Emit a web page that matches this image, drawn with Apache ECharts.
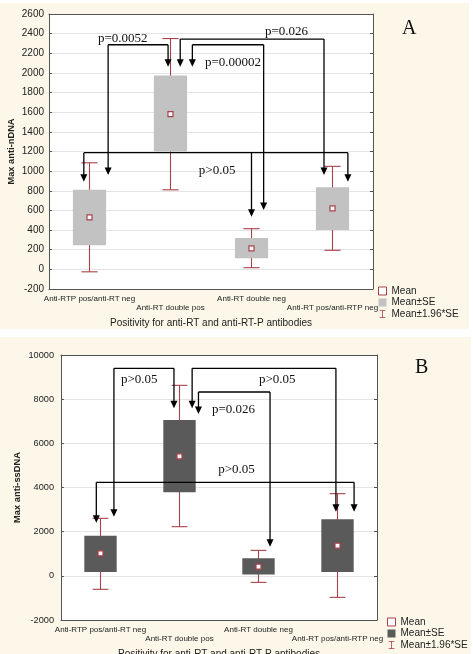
<!DOCTYPE html>
<html><head><meta charset="utf-8">
<script src="https://cdn.jsdelivr.net/npm/echarts@6/dist/echarts.min.js"></script>
<style>html,body{margin:0;padding:0;background:#fff}#c{width:473px;height:654px}</style>
</head><body><div id="c"></div>
<script>
// ---------- data ----------
const categories = ['Anti-RTP pos/anti-RT neg', 'Anti-RT double pos', 'Anti-RT double neg', 'Anti-RT pos/anti-RTP neg'];

// Panel A : Max anti-nDNA
const meanA   = [530, 1580, 214, 621];
const seLowA  = [245, 1200, 112, 400];
const seHighA = [810, 1975, 319, 835];
const ciLowA  = [-25, 810, 17, 194];
const ciHighA = [1085, 2350, 414, 1049];
const axisA = { min: -200, max: 2600, interval: 200 };

// Panel B : Max anti-ssDNA
const meanB   = [1019, 5411, 415, 1365];
const seLowB  = [172, 3780, 66, 172];
const seHighB = [1817, 7056, 791, 2557];
const ciLowB  = [-611, 2226, -296, -975];
const ciHighB = [2604, 8626, 1153, 3720];
const axisB = { min: -2000, max: 10000, interval: 2000 };

// comparison brackets: level value, arrows [category, offset (fraction of band), tip value]
const bracketsA = [
  { level: 2287, arrows: [[0, 0.23, 960], [1, -0.03, 2063]] },
  { level: 2345, arrows: [[1, 0.12, 2063], [3, -0.105, 960]] },
  { level: 2287, arrows: [[1, 0.27, 2063], [2, 0.15, 604]] },
  { level: 1188, arrows: [[0, -0.07, 892], [2, 0.0, 536], [3, 0.19, 892]] }
];
const pLabelsA = [['p=0.0052', 0, 0.105, 2348], ['p=0.026', 2, 0.167, 2417], ['p=0.00002', 1, 0.426, 2104], ['p>0.05', 1, 0.35, 1004]];

const bracketsB = [
  { level: 9398, arrows: [[0, 0.17, 2677], [1, -0.07, 7586]] },
  { level: 9398, arrows: [[1, 0.16, 7586], [3, -0.02, 2903]] },
  { level: 8324, arrows: [[1, 0.24, 7328], [2, 0.146, 1318]] },
  { level: 4235, arrows: [[0, -0.053, 2405], [3, 0.21, 2903]] }
];
const pLabelsB = [['p>0.05', 0, 0.26, 8868], ['p>0.05', 2, 0.006, 8868], ['p=0.026', 1, 0.41, 7509], ['p>0.05', 1, 0.49, 4792]];

// ---------- styles ----------
const RED = '#a8414b';
const SANS = '"Liberation Sans", Arial, sans-serif';
const SERIF = '"Liberation Serif", "Times New Roman", serif';
const CREAM = '#fcf7e9';

const chart = echarts.init(document.getElementById('c'), null, { renderer: 'canvas' });

function whiskerRender(params, api) {
  const bw = api.size([1, 0])[0];
  const x = api.coord([api.value(0), 0])[0];
  const yl = api.coord([0, api.value(1)])[1];
  const yh = api.coord([0, api.value(2)])[1];
  const cap = bw * 0.1;
  const st = { stroke: RED, lineWidth: 1.1 };
  return { type: 'group', children: [
    { type: 'line', shape: { x1: x, y1: yl, x2: x, y2: yh }, style: st },
    { type: 'line', shape: { x1: x - cap, y1: yl, x2: x + cap, y2: yl }, style: st },
    { type: 'line', shape: { x1: x - cap, y1: yh, x2: x + cap, y2: yh }, style: st }
  ]};
}
function boxRender(color) {
  return function (params, api) {
    const bw = api.size([1, 0])[0];
    const x = api.coord([api.value(0), 0])[0];
    const yl = api.coord([0, api.value(1)])[1];
    const yh = api.coord([0, api.value(2)])[1];
    const w = bw * 0.41;
    return { type: 'rect', shape: { x: x - w / 2, y: yh, width: w, height: yl - yh }, style: { fill: color } };
  };
}
function bracketRender(brackets) {
  return function (params, api) {
    const b = brackets[params.dataIndex];
    const bw = api.size([1, 0])[0];
    const xs = b.arrows.map(a => api.coord([a[0], 0])[0] + a[1] * bw);
    const yL = api.coord([0, b.level])[1];
    const st = { stroke: '#000', lineWidth: 1.3 };
    const children = [{ type: 'line', shape: { x1: Math.min(...xs), y1: yL, x2: Math.max(...xs), y2: yL }, style: st }];
    b.arrows.forEach((a, k) => {
      const x = xs[k];
      const yT = api.coord([0, a[2]])[1];
      children.push({ type: 'line', shape: { x1: x, y1: yL, x2: x, y2: yT - 6 }, style: st });
      children.push({ type: 'polygon', shape: { points: [[x - 3.5, yT - 7.5], [x + 3.5, yT - 7.5], [x, yT]] }, style: { fill: '#000' } });
    });
    return { type: 'group', children };
  };
}
function labelRender(labels, size) {
  return function (params, api) {
    const l = labels[params.dataIndex];
    const bw = api.size([1, 0])[0];
    const x = api.coord([l[1], 0])[0] + l[2] * bw;
    const y = api.coord([0, l[3]])[1];
    return { type: 'text', x: x, y: y, style: { text: l[0], fill: '#111', font: size + 'px ' + SERIF, verticalAlign: 'middle', align: 'left' } };
  };
}

function panelAxes(gi, ax, yName, labelSize, nameGapY, labelMargin) {
  const xMain = {
    type: 'category', gridIndex: gi, data: categories, boundaryGap: true, position: 'bottom',
    axisLine: { onZero: false, lineStyle: { color: '#555', width: 1 } },
    axisTick: { alignWithLabel: true, inside: true, length: 3, lineStyle: { color: '#555' } },
    axisLabel: { interval: 0, fontSize: 8, fontFamily: SANS, color: '#222', margin: 5, lineHeight: 9,
      formatter: (v, i) => (i % 2 ? '\n' + v : v) },
    name: 'Positivity for anti-RT and anti-RT-P antibodies', nameLocation: 'middle', nameGap: 29, nameMoveOverlap: false,
    nameTextStyle: { fontSize: 10, fontFamily: SANS, color: '#222' }
  };
  const xTop = {
    type: 'category', gridIndex: gi, data: categories, position: 'top',
    axisLine: { onZero: false, lineStyle: { color: '#555' } },
    axisTick: { alignWithLabel: true, inside: true, length: 3, lineStyle: { color: '#555' } },
    axisLabel: { show: false }
  };
  const yMain = {
    type: 'value', gridIndex: gi, min: ax.min, max: ax.max, interval: ax.interval, position: 'left',
    axisLine: { show: true, onZero: false, lineStyle: { color: '#555' } },
    axisTick: { show: true, inside: true, length: 3, lineStyle: { color: '#555' } },
    axisLabel: { fontSize: labelSize, fontFamily: SANS, color: '#222', margin: labelMargin, formatter: v => String(v) },
    splitLine: { show: true, lineStyle: { color: '#e4e4e4', width: 1 } },
    name: yName, nameLocation: 'middle', nameGap: nameGapY, nameMoveOverlap: false,
    nameTextStyle: { fontSize: 9.3, fontWeight: 'bold', fontFamily: SANS, color: '#222' }
  };
  const yRight = {
    type: 'value', gridIndex: gi, min: ax.min, max: ax.max, interval: ax.interval, position: 'right',
    axisLine: { show: true, onZero: false, lineStyle: { color: '#555' } },
    axisTick: { show: true, inside: true, length: 3, lineStyle: { color: '#555' } },
    axisLabel: { show: false }, splitLine: { show: false }
  };
  return { x: [xMain, xTop], y: [yMain, yRight] };
}

const pa = panelAxes(0, axisA, 'Max anti-nDNA', 10, 33, 5);
const pb = panelAxes(1, axisB, 'Max anti-ssDNA', 9.2, 39, 7);

const idx = categories.map((c, i) => i);
function panelSeries(xi, yi, mean, seL, seH, ciL, ciH, boxColor, brackets, labels) {
  return [
    { type: 'custom', name: 'Mean±1.96*SE', xAxisIndex: xi, yAxisIndex: yi, renderItem: whiskerRender,
      encode: { x: 0, y: [1, 2] }, data: idx.map(i => [i, ciL[i], ciH[i]]), z: 2, itemStyle: { color: RED } },
    { type: 'custom', name: 'Mean±SE', xAxisIndex: xi, yAxisIndex: yi, renderItem: boxRender(boxColor),
      encode: { x: 0, y: [1, 2] }, data: idx.map(i => [i, seL[i], seH[i]]), z: 3, itemStyle: { color: boxColor } },
    { type: 'scatter', name: 'Mean', xAxisIndex: xi, yAxisIndex: yi, symbol: 'rect', symbolSize: 5,
      itemStyle: { color: '#fff', borderColor: RED, borderWidth: 1.2, opacity: 1 }, z: 4,
      data: idx.map(i => [i, mean[i]]) },
    { type: 'custom', xAxisIndex: xi, yAxisIndex: yi, renderItem: bracketRender(brackets), z: 5, silent: true,
      encode: { x: 0, y: 1 }, data: brackets.map(b => [b.arrows[0][0], b.level]) },
    { type: 'custom', xAxisIndex: xi, yAxisIndex: yi, renderItem: labelRender(labels, 13), z: 6, silent: true,
      encode: { x: 0, y: 1 }, data: labels.map(l => [l[1], l[3]]) }
  ];
}

const whiskIcon = 'path://M0,0h10v1.4h-10z M4.3,0h1.4v14h-1.4z M0,12.6h10v1.4h-10z';
function legendFor(left, top, boxColor) {
  return {
    orient: 'vertical', left: left, top: top, padding: 0, itemGap: 1.5, itemWidth: 8, itemHeight: 8,
    selectedMode: false,
    textStyle: { fontSize: 10, fontFamily: SANS, color: '#222', lineHeight: 9 },
    data: [
      { name: 'Mean', icon: 'rect', itemStyle: { color: '#fff', borderColor: RED, borderWidth: 1 } },
      { name: 'Mean±SE', icon: 'rect', itemStyle: { color: boxColor, borderWidth: 0 } },
      { name: 'Mean±1.96*SE', icon: whiskIcon, itemStyle: { color: RED, borderWidth: 0 } }
    ]
  };
}

const option = {
  animation: false,
  backgroundColor: '#fff',
  graphic: [
    { type: 'rect', z: -10, shape: { x: 0, y: 3, width: 469, height: 326 }, style: { fill: CREAM } },
    { type: 'rect', z: -10, shape: { x: 0, y: 337, width: 471, height: 317 }, style: { fill: CREAM } }
  ],
  title: [
    { text: 'A', left: 402, top: 19, padding: 0, textStyle: { fontFamily: SERIF, fontSize: 20, fontWeight: 'normal', color: '#111' } },
    { text: 'B', left: 415, top: 358, padding: 0, textStyle: { fontFamily: SERIF, fontSize: 20, fontWeight: 'normal', color: '#111' } }
  ],
  grid: [
    { left: 49, top: 14, width: 324, height: 275, show: true, backgroundColor: '#fff', borderWidth: 0, containLabel: false, outerBoundsMode: 'none' },
    { left: 61, top: 355, width: 316, height: 265, show: true, backgroundColor: '#fff', borderWidth: 0, containLabel: false, outerBoundsMode: 'none' }
  ],
  legend: [legendFor(378, 286, '#c2c2c2'), legendFor(387, 617, '#5a5a5a')],
  xAxis: [...pa.x, ...pb.x],
  yAxis: [...pa.y, ...pb.y],
  series: [
    ...panelSeries(0, 0, meanA, seLowA, seHighA, ciLowA, ciHighA, '#c2c2c2', bracketsA, pLabelsA),
    ...panelSeries(2, 2, meanB, seLowB, seHighB, ciLowB, ciHighB, '#5a5a5a', bracketsB, pLabelsB)
  ]
};
chart.setOption(option);
</script>
</body></html>
